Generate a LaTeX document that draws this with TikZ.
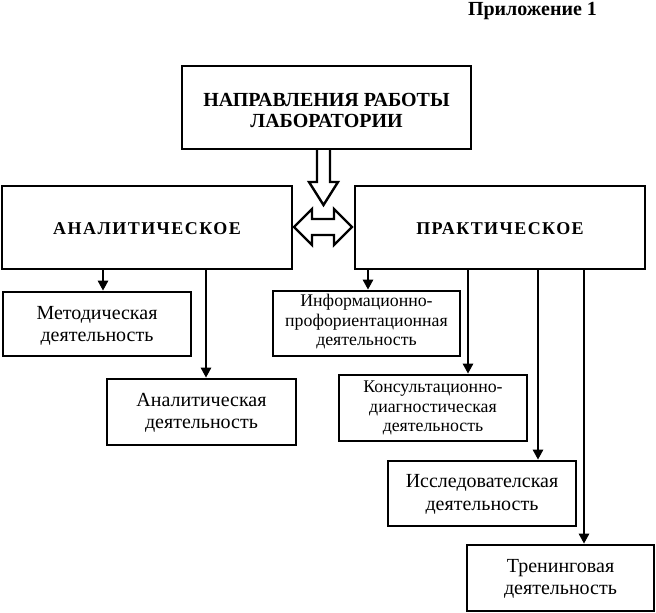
\documentclass[tikz,border=0pt]{standalone}
\usepackage{fontspec}
\setmainfont{Liberation Serif}
\usetikzlibrary{arrows.meta}
\tikzset{
  box/.style={draw=black, line width=2.6pt, rectangle, align=center, inner sep=0pt},
  arr/.style={line width=2.6pt, -{Triangle[width=10pt,length=10pt]}},
  blockarrow/.style={draw=black, line width=2.4pt, fill=white, line join=miter},
  body/.style={font=\fontsize{20}{22.5}\selectfont},
  small/.style={font=\fontsize{17.8}{19.5}\selectfont},
  title/.style={font=\fontsize{20}{21}\selectfont\bfseries},
  bigtitle/.style={font=\fontsize{18}{22}\selectfont\bfseries\addfontfeature{LetterSpace=8}},
}
\begin{document}
\begin{tikzpicture}[x=1pt,y=-1pt]
\useasboundingbox (0,0) rectangle (656,613);
% header
\node[anchor=base, font=\fontsize{20}{22}\selectfont\bfseries] (app) at (532.5,15) {Приложение 1};
% main boxes
\node[box, minimum width=289pt, minimum height=83pt] (top) at (326.5,107.5) {};
\node[title, align=center, inner sep=0pt] (topt) at ([yshift=-2.5pt]top.center) {НАПРАВЛЕНИЯ РАБОТЫ\\ЛАБОРАТОРИИ};
\node[box, minimum width=290pt, minimum height=83pt] (anal) at (147,227.5) {};
\node[bigtitle, inner sep=0pt] (analt) at ([yshift=-1pt]anal.center) {АНАЛИТИЧЕСКОЕ};
\node[box, minimum width=290pt, minimum height=83pt] (prakt) at (500,227.5) {};
\node[bigtitle, inner sep=0pt] (praktt) at ([yshift=-1pt]prakt.center) {ПРАКТИЧЕСКОЕ};
% children
\node[box, minimum width=188pt, minimum height=64pt] (metod) at (97,324) {};
\node[body, align=center, inner sep=0pt] at ([yshift=-2pt]metod.center) {Методическая\\деятельность};
\node[box, minimum width=189pt, minimum height=66pt] (analD) at (201.5,412) {};
\node[body, align=center, inner sep=0pt] at ([yshift=-1pt]analD.center) {Аналитическая\\деятельность};
\node[box, minimum width=187pt, minimum height=65pt] (info) at (366.5,323.5) {};
\node[small, align=center, inner sep=0pt] at ([yshift=1.5pt]info.center) {Информационно-\\профориентационная\\деятельность};
\node[box, minimum width=188pt, minimum height=66pt] (kons) at (433,408) {};
\node[small, align=center, inner sep=0pt] at (kons.center) {Консультационно-\\диагностическая\\деятельность};
\node[box, minimum width=188pt, minimum height=65pt] (issl) at (482,493.5) {};
\node[body, align=center, inner sep=0pt] at ([yshift=-1pt]issl.center) {Исследователская\\деятельность};
\node[box, minimum width=187pt, minimum height=66pt] (tren) at (560.5,578) {};
\node[body, align=center, inner sep=0pt] at ([yshift=-1pt]tren.center) {Тренинговая\\деятельность};
% connector start points
\coordinate (s1) at (103,269);
\coordinate (s2) at (206,269);
\coordinate (s3) at (368,269);
\coordinate (s4) at (468,269);
\coordinate (s5) at (538,269);
\coordinate (s6) at (584,269);
\draw[arr] (s1) -- (s1 |- metod.north);
\draw[arr] (s2) -- (s2 |- analD.north);
\draw[arr] (s3) -- (s3 |- info.north);
\draw[arr] (s4) -- (s4 |- kons.north);
\draw[arr] (s5) -- (s5 |- issl.north);
\draw[arr] (s6) -- (s6 |- tren.north);
% hollow down arrow
\draw[blockarrow] (317,150) -- (317,182) -- (309,182) -- (323.5,205) -- (338,182) -- (330,182) -- (330,150);
% hollow double arrow
\draw[blockarrow] (294,227) -- (312,209) -- (312,219) -- (334,219) -- (334,209) -- (352,227) -- (334,245) -- (334,235) -- (312,235) -- (312,245) -- cycle;
\end{tikzpicture}
\end{document}
